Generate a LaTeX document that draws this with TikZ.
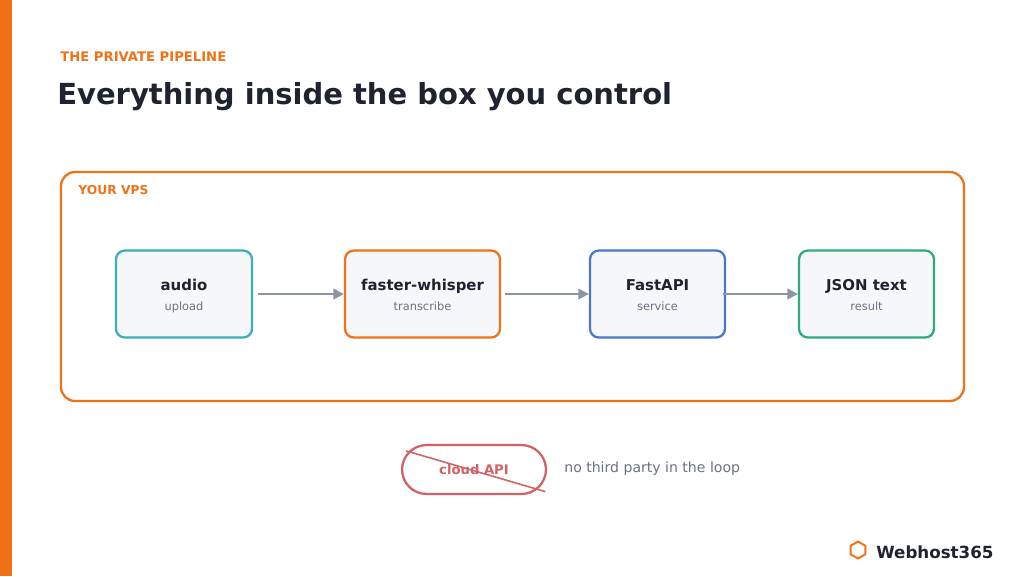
\documentclass[tikz,border=0pt]{standalone}
\usepackage{fontspec}
\setmainfont{DejaVu Sans}
\usetikzlibrary{arrows.meta, positioning, shapes.geometric}

\definecolor{brand}{HTML}{EE7318}
\definecolor{ink}{HTML}{1F2330}
\definecolor{muted}{HTML}{6B7280}
\definecolor{wire}{HTML}{8C96A2}
\definecolor{boxfill}{HTML}{F5F7FA}
\definecolor{cteal}{HTML}{3AAFB4}
\definecolor{cblue}{HTML}{4A78C8}
\definecolor{cgreen}{HTML}{2EAA80}
\definecolor{cred}{HTML}{D06464}

\tikzset{
  stage/.style={draw=#1, line width=1.3pt, fill=boxfill, rounded corners=5pt,
    minimum width=2.72cm, minimum height=1.74cm, inner sep=0pt},
  flow/.style={draw=wire, line width=1.3pt, -{Triangle[length=6pt,width=6pt]}},
  stagetitle/.style={inner sep=0pt, text=ink, font=\fontsize{8.5}{10}\selectfont\bfseries},
  stagesub/.style={inner sep=0pt, text=muted, font=\fontsize{6.5}{8}\selectfont},
}

\begin{document}
\begin{tikzpicture}[x=0.02cm, y=-0.02cm]
\useasboundingbox (0,0) rectangle (1024,576);
\fill[white] (0,0) rectangle (1024,576);
\fill[brand] (0,0) rectangle (12,576);

% Heading
\node[anchor=west, inner sep=0pt, text=brand, font=\fontsize{7.5}{9}\selectfont\bfseries] (kicker) at (60,57) {THE PRIVATE PIPELINE};
\node[anchor=west, inner sep=0pt, text=ink, font=\fontsize{16.5}{20}\selectfont\bfseries] (title) at (57,97) {Everything inside the box you control};

% VPS box
\draw[brand, line width=1.3pt, rounded corners=8pt] (61,172) rectangle (964,401);
\node[anchor=west, inner sep=0pt, text=brand, font=\fontsize{7}{8}\selectfont\bfseries] (vps) at (78,190) {YOUR VPS};

% Stages
\node[stage=cteal, minimum width=2.72cm] (audio) at (184,294) {};
\node[stage=brand, minimum width=3.1cm] (whisper) at (422.5,294) {};
\node[stage=cblue, minimum width=2.7cm] (api) at (657.5,294) {};
\node[stage=cgreen, minimum width=2.7cm] (json) at (866.5,294) {};
\foreach \n/\t/\s in {audio/audio/upload, whisper/faster-whisper/transcribe, api/FastAPI/service, json/JSON text/result}{
  \node[stagetitle, anchor=base] at ([yshift=-0.5pt]\n.center |- 0,290) {\t};
  \node[stagesub, anchor=base] at (\n.center |- 0,310) {\s};
}

\draw[flow] ([xshift=3pt]audio.east) -- (whisper.west);
\draw[flow] ([xshift=2pt]whisper.east) -- (api.west);
\draw[flow] ([xshift=-2pt]api.east) -- (json.west);

% Excluded
\node[draw=cred, line width=1.3pt, rounded corners=14pt, minimum width=2.88cm, minimum height=0.98cm,
  text=cred, font=\fontsize{7.5}{9}\selectfont\bfseries] (cloud) at (474,469.5) {cloud API};
\draw[cred, line width=0.9pt] ([shift={(3pt,-4pt)}]cloud.north west) -- ([shift={(-1pt,2pt)}]cloud.south east);
\node[anchor=west, inner sep=0pt, text=muted, font=\fontsize{8}{10}\selectfont] (note) at (564,469) {no third party in the loop};

% Brand mark
\node[regular polygon, regular polygon sides=6, rotate=30, draw=brand, line width=1.1pt, minimum size=0.34cm, inner sep=0pt] (hex) at (858,550) {};
\node[anchor=west, inner sep=0pt, text=ink, font=\fontsize{9.5}{11}\selectfont\bfseries] (brandname) at (876,552) {Webhost365};
\end{tikzpicture}
\end{document}
